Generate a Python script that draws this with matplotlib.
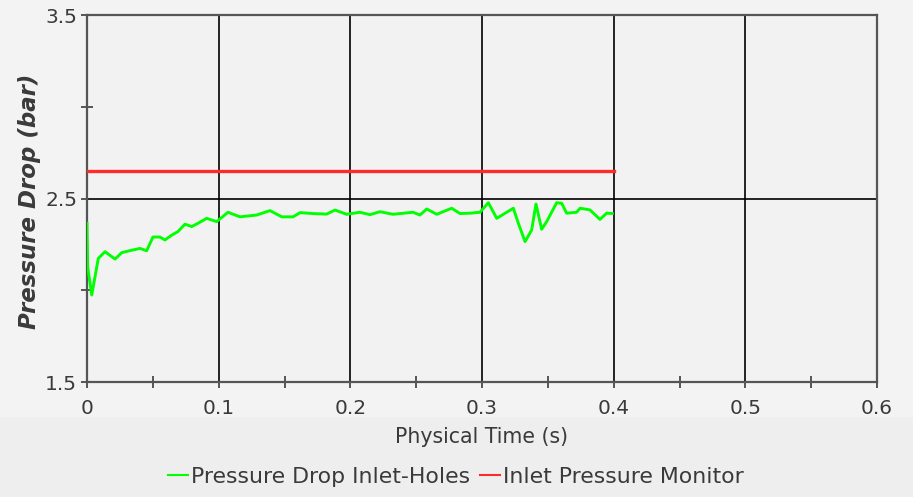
import matplotlib
matplotlib.use("Agg")
import matplotlib.pyplot as plt
from matplotlib.patches import Rectangle
from matplotlib.ticker import MultipleLocator

# Pressure drop between inlet and holes (bar) over physical time (s)
time_s = [0.0, 0.0005, 0.0036, 0.0086, 0.0137, 0.0213, 0.0264, 0.0327, 0.0403,
          0.0453, 0.0501, 0.0554, 0.0592, 0.0643, 0.0691, 0.0744, 0.0795, 0.0843,
          0.0909, 0.0985, 0.1071, 0.1162, 0.1289, 0.1390, 0.1479, 0.1565, 0.1618,
          0.1716, 0.1820, 0.1884, 0.1972, 0.2073, 0.2149, 0.2225, 0.2324, 0.2476,
          0.2529, 0.2580, 0.2656, 0.2770, 0.2833, 0.2909, 0.2985, 0.3048, 0.3112,
          0.3238, 0.3276, 0.3327, 0.3377, 0.3410, 0.3453, 0.3491, 0.3567, 0.3605,
          0.3643, 0.3719, 0.3744, 0.3820, 0.3896, 0.3947, 0.3990]
pressure_drop = [2.365, 2.128, 1.974, 2.174, 2.210, 2.170, 2.205, 2.216, 2.228,
                 2.215, 2.290, 2.290, 2.274, 2.300, 2.320, 2.360, 2.347, 2.365,
                 2.392, 2.374, 2.425, 2.400, 2.410, 2.434, 2.400, 2.400, 2.423,
                 2.418, 2.415, 2.437, 2.414, 2.425, 2.412, 2.428, 2.414, 2.425,
                 2.410, 2.443, 2.414, 2.447, 2.418, 2.420, 2.425, 2.477, 2.392,
                 2.447, 2.365, 2.265, 2.328, 2.470, 2.332, 2.374, 2.477, 2.474,
                 2.420, 2.425, 2.447, 2.438, 2.386, 2.420, 2.418]

# Inlet pressure monitor (constant)
monitor_time = [0.0, 0.4]
monitor_value = [2.65, 2.65]

x_ticks = [0, 0.1, 0.2, 0.3, 0.4, 0.5, 0.6]
x_tick_labels = ["0", "0.1", "0.2", "0.3", "0.4", "0.5", "0.6"]
y_ticks = [1.5, 2.5, 3.5]
y_tick_labels = ["1.5", "2.5", "3.5"]

text_color = "#3a3a3a"
bg = "#f3f3f3"

fig = plt.figure(figsize=(9.13, 4.97), dpi=100, facecolor=bg)
fig.patches.append(Rectangle((0, 0), 1, 80 / 497, transform=fig.transFigure,
                             facecolor="#eeeeee", edgecolor="none", zorder=-5))

ax = fig.add_axes([87 / 913, 1 - 382 / 497, 790 / 913, 367 / 497], zorder=1)
ax.set_facecolor("#f2f2f2")

ax.plot(time_s, pressure_drop, color="#00ff00", lw=2.1,
        label="Pressure Drop Inlet-Holes", zorder=3)
ax.plot(monitor_time, monitor_value, color="#ff2a2a", lw=2.4,
        label="Inlet Pressure Monitor", zorder=3)

ax.set_xlim(0, 0.6)
ax.set_ylim(1.5, 3.5)
ax.set_xticks(x_ticks)
ax.set_xticklabels(x_tick_labels)
ax.set_yticks(y_ticks)
ax.set_yticklabels(y_tick_labels)
ax.xaxis.set_minor_locator(MultipleLocator(0.05))
ax.yaxis.set_minor_locator(MultipleLocator(0.5))

ax.grid(True, which="major", color="black", lw=1.2, zorder=1)
ax.set_axisbelow(True)

for s in ax.spines.values():
    s.set_color("#555555")
    s.set_linewidth(1.6)

ax.tick_params(which="major", direction="out", length=4, width=1.4,
               color="#555555", labelsize=14.5, labelcolor=text_color)
ax.tick_params(axis="x", which="major", pad=8)
ax.tick_params(axis="y", which="major", pad=3)
ax.tick_params(which="minor", direction="inout", length=8, width=1.4,
               color="#555555")

ax.set_xlabel("Physical Time (s)", fontsize=14.8, color=text_color)
ax.xaxis.set_label_coords(0.5, -(437 - 382 + 10) / 367)
ax.xaxis.label.set_va("center")
ax.xaxis.set_label_coords(0.5, -(437 - 382) / 367)

ax.set_ylabel("Pressure Drop (bar)", fontsize=16.5, color=text_color,
              fontweight="bold", fontstyle="italic")
ax.yaxis.set_label_coords((41 - 87) / 790, 0.5 - 2.5 / 367)

handles, labels = ax.get_legend_handles_labels()
leg = fig.legend(handles, labels, loc="center", bbox_to_anchor=(456 / 913, 1 - 477 / 497),
                 ncol=2, frameon=False, fontsize=15.8, handlelength=0.9,
                 handletextpad=0.15, columnspacing=0.45, labelcolor=text_color)
for line in leg.get_lines():
    line.set_linewidth(1.5)

fig.savefig("out.png", dpi=100, facecolor=fig.get_facecolor())
